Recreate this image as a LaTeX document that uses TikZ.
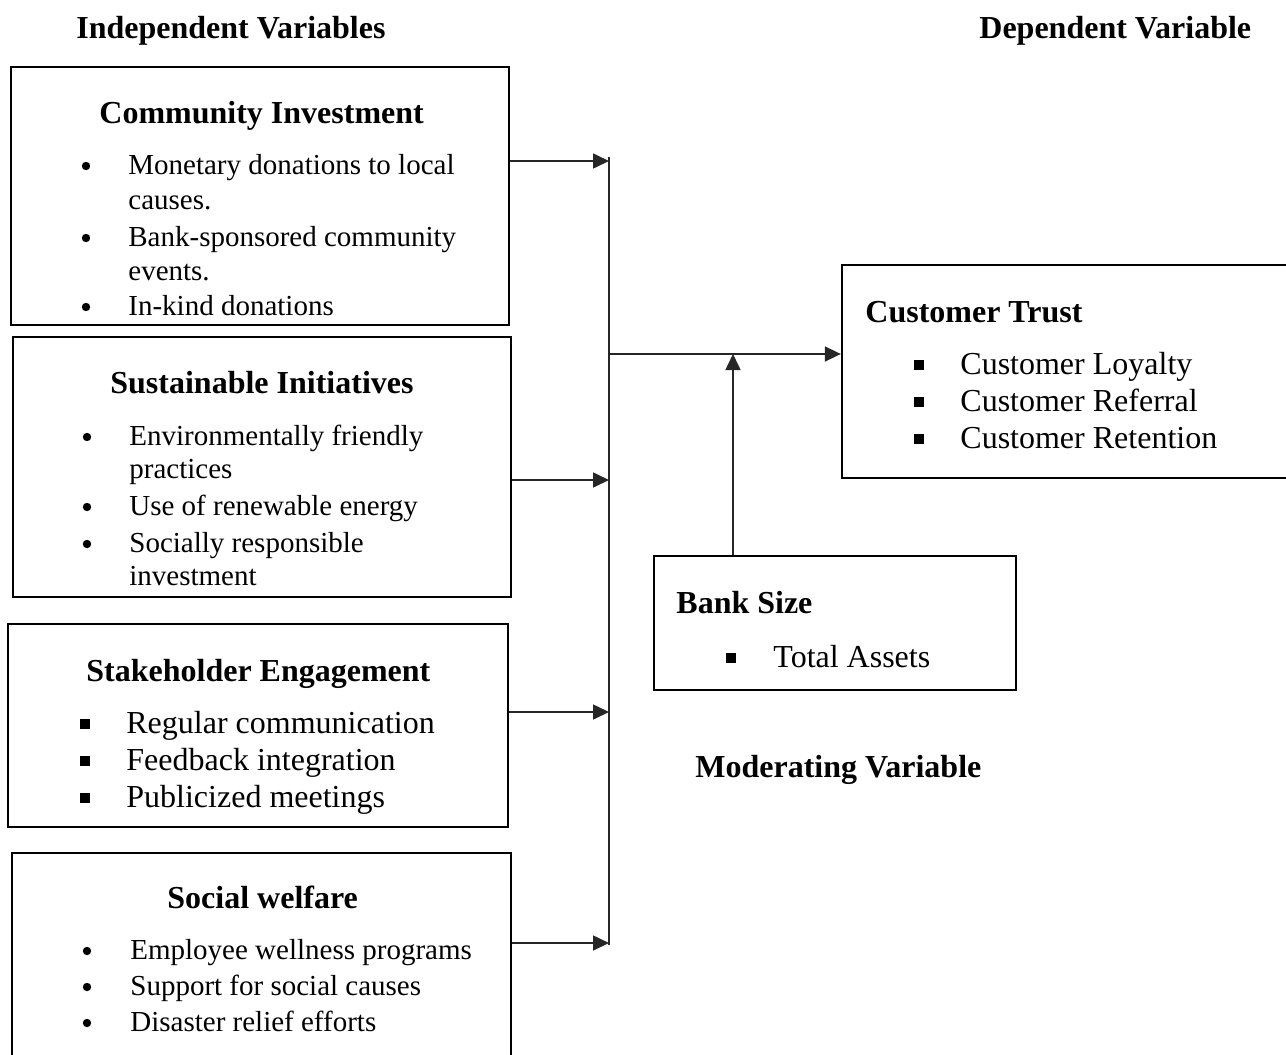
\documentclass[tikz,border=0pt]{standalone}
\usepackage{fontspec}
\setmainfont{Liberation Serif}
\usepackage{tikz}
\usetikzlibrary{arrows.meta,fit}

\begin{document}
\begin{tikzpicture}[
  x=0.5pt,
  y=-0.5pt,
  varbox/.style={draw=black,line width=1.15pt,inner sep=0pt},
  link/.style={draw=black!85,line width=0.8pt},
  arr/.style={link,-{Triangle[length=8pt,width=7.5pt]}},
  hd/.style={font=\fontsize{16}{19}\selectfont\bfseries,anchor=base west,inner sep=0pt},
  big/.style={font=\fontsize{16}{19}\selectfont,anchor=base west,inner sep=0pt},
  sml/.style={font=\fontsize{14.5}{17}\selectfont,anchor=base west,inner sep=0pt}
]
\useasboundingbox (0,0) rectangle (1286,1055);
\node[hd] (indep) at (76,38) {Independent Variables};
\node[hd] (dep) at (979,38) {Dependent Variable};
\node[hd] (moder) at (695,777) {Moderating Variable};

\node[varbox,fit={(11,67) (509,325)}] (ci) {};
\node[varbox,fit={(13,337) (511,597)}] (si) {};
\node[varbox,fit={(8,624) (508,827)}] (se) {};
\node[varbox,fit={(12,853) (511,1075)}] (sw) {};
\node[varbox,fit={(842,265) (1300,478)}] (ct) {};
\node[varbox,fit={(654,556) (1016,690)}] (bs) {};

\node[hd] (ci-h) at (99,123) {Community Investment};
\foreach \y/\t [count=\i] in {174/Monetary donations to local,209/causes.,246/Bank-sponsored community,280/events.,315/In-kind donations}
  \node[sml] (ci-\i) at (128,\y) {\t};
\foreach \y in {174,246,315}
  \fill (86,\y-8) circle[radius=2.1pt];

\node[hd] (si-h) at (110,393) {Sustainable Initiatives};
\foreach \y/\t [count=\i] in {445/Environmentally friendly,478/practices,515/Use of renewable energy,552/Socially responsible,585/investment}
  \node[sml] (si-\i) at (129,\y) {\t};
\foreach \y in {445,515,552}
  \fill (87,\y-8) circle[radius=2.1pt];

\node[hd] (se-h) at (86,681) {Stakeholder Engagement};
\foreach \y/\t [count=\i] in {733/Regular communication,770/Feedback integration,807/Publicized meetings}
  \node[big] (se-\i) at (126,\y) {\t};
\foreach \y in {733,770,807}
  \fill[shift={(85,\y-9)}] (-5,-5) rectangle (5,5);

\node[hd] (sw-h) at (167,908) {Social welfare};
\foreach \y/\t [count=\i] in {959/Employee wellness programs,995/Support for social causes,1031/Disaster relief efforts}
  \node[sml] (sw-\i) at (130,\y) {\t};
\foreach \y in {959,995,1031}
  \fill (87,\y-8) circle[radius=2.1pt];

\node[hd] (ct-h) at (865,322) {Customer Trust};
\foreach \y/\t [count=\i] in {374/Customer Loyalty,411/Customer Referral,448/Customer Retention}
  \node[big] (ct-\i) at (960,\y) {\t};
\foreach \y in {374,411,448}
  \fill[shift={(919,\y-9)}] (-5,-5) rectangle (5,5);

\node[hd] (bs-h) at (676,613) {Bank Size};
\node[big] (bs-1) at (773,667) {Total Assets};
\fill[shift={(731,658)}] (-5,-5) rectangle (5,5);

\coordinate (bustop) at (609,157);
\coordinate (busbot) at (609,945);
\coordinate (b1) at (609,161);
\coordinate (b2) at (609,480);
\coordinate (b3) at (609,712);
\coordinate (b4) at (609,943);
\coordinate (jn) at (609,354);
\coordinate (mod) at (733,354);
\draw[link] (bustop) -- (busbot);
\draw[arr] (b1 -| ci.east) -- (b1);
\draw[arr] (b2 -| si.east) -- (b2);
\draw[arr] (b3 -| se.east) -- (b3);
\draw[arr] (b4 -| sw.east) -- (b4);
\draw[arr] (jn) -- (jn -| ct.west);
\draw[arr] (mod |- bs.north) -- (mod);
\end{tikzpicture}
\end{document}
